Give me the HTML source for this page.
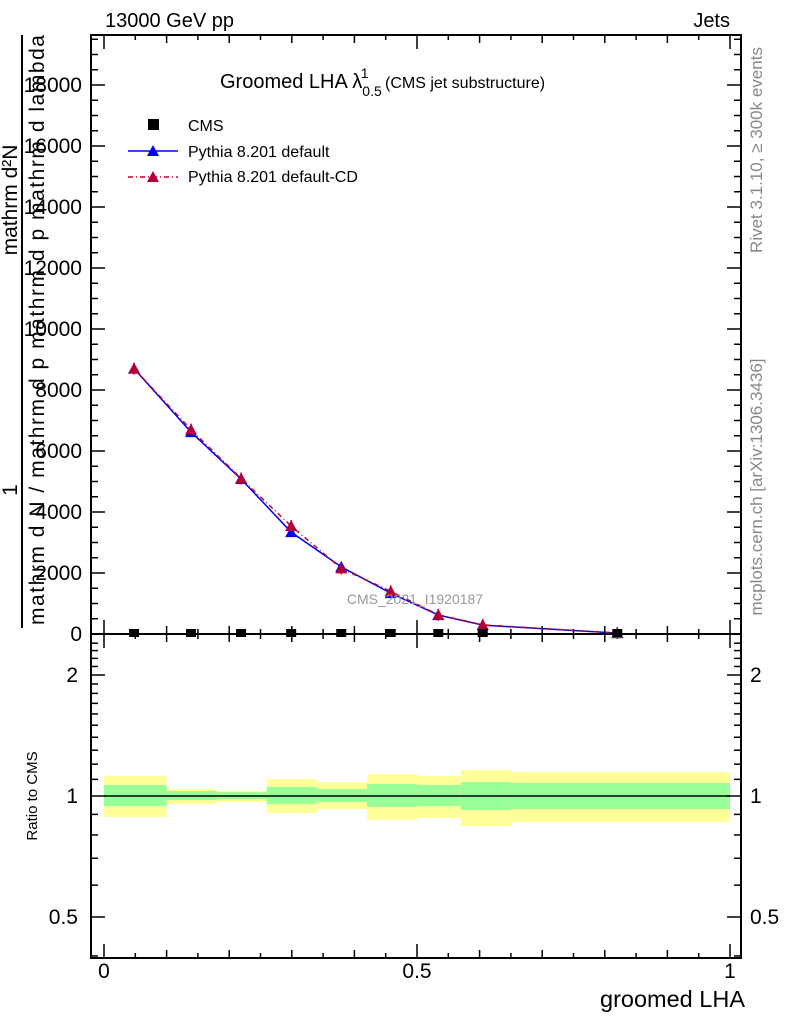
<!DOCTYPE html>
<html><head><meta charset="utf-8"><style>
body{margin:0;background:#fff;}
svg{display:block;font-family:"Liberation Sans",sans-serif;}
</style></head><body>
<svg id="c" width="786" height="1024"></svg>
<script>
const binEdges=[0,0.1,0.18,0.26,0.34,0.42,0.50,0.57,0.65,1.0];
const xCenters=[0.048,0.139,0.219,0.299,0.379,0.458,0.534,0.605,0.82];
const cmsVals=[0,0,0,0,0,0,0,0,0];
const pyDefault=[8700,6620,5080,3340,2200,1340,620,290,30];
const pyCD=[8700,6700,5100,3540,2150,1400,630,300,30];
const yelHi=[1.121,1.041,1.029,1.102,1.083,1.134,1.121,1.16,1.147];
const yelLo=[0.887,0.955,0.966,0.907,0.928,0.872,0.882,0.842,0.862];
const grnHi=[1.065,1.029,1.023,1.053,1.041,1.071,1.065,1.083,1.077];
const grnLo=[0.944,0.977,0.983,0.955,0.966,0.939,0.944,0.923,0.928];
const yTicks=[0,2000,4000,6000,8000,10000,12000,14000,16000,18000];
const rTicks=[0.5,1,2];
const xTicks=[0,0.5,1];

const S=document.getElementById('c');const NS='http://www.w3.org/2000/svg';
function el(t,a,txt){const e=document.createElementNS(NS,t);for(const k in a)e.setAttribute(k,a[k]);if(txt!==undefined)e.textContent=txt;S.appendChild(e);return e;}
const L=91,R=741,T=35,MB=634,RB=958;
const X=v=>104+v*626;
const Y=v=>634-v/2000*61;
const RY=v=>796-Math.log2(v)*121;

for(let i=0;i<9;i++){
 let b=el('rect',{x:X(binEdges[i]),y:RY(yelHi[i]),width:X(binEdges[i+1])-X(binEdges[i]),height:RY(yelLo[i])-RY(yelHi[i]),fill:'#ffff99'});
 
 
 let g=el('rect',{x:X(binEdges[i]),y:RY(grnHi[i]),width:X(binEdges[i+1])-X(binEdges[i]),height:RY(grnLo[i])-RY(grnHi[i]),fill:'#99ff99'});
 
 
}
let one=el('line',{x1:X(0),x2:X(1),y1:RY(1),y2:RY(1),stroke:'#000','stroke-width':1.5});



let f1=el('rect',{x:L,y:T,width:R-L,height:MB-T,fill:'none',stroke:'#000','stroke-width':2});


let f2=el('rect',{x:L,y:MB,width:R-L,height:RB-MB,fill:'none',stroke:'#000','stroke-width':2});



for(let v=0;v<=19500;v+=500){const y=Y(v);const maj=v%2000===0;
 el('line',{x1:L,x2:L+(maj?14:7),y1:y,y2:y,stroke:'#000','stroke-width':1.5});
 el('line',{x1:R,x2:R-(maj?14:7),y1:y,y2:y,stroke:'#000','stroke-width':1.5});}
yTicks.forEach(v=>{let t=el('text',{x:82,y:Y(v)+7,'text-anchor':'end','font-size':21},String(v));
 
 });
[0.4,0.5,0.6,0.7,0.8,0.9,1,1.1,1.2,1.3,1.4,1.5,1.6,1.7,1.8,1.9,2,2.1,2.2,2.3,2.4].forEach(v=>{const y=RY(v);const maj=rTicks.includes(v);
 el('line',{x1:L,x2:L+(maj?14:7),y1:y,y2:y,stroke:'#000','stroke-width':1.5});
 el('line',{x1:R,x2:R-(maj?14:7),y1:y,y2:y,stroke:'#000','stroke-width':1.5});});
rTicks.forEach(v=>{let a=el('text',{x:78,y:RY(v)+7,'text-anchor':'end','font-size':21},String(v));
 
 
 let b=el('text',{x:750,y:RY(v)+7,'font-size':21},String(v));
 
 });
for(let i=0;i<=20;i++){const v=i*0.05,x=X(v);const len=i%10===0?14:(i%2===0?8:5);
 [[MB,-1],[T,1],[RB,-1],[MB,1]].forEach(([y0,d])=>el('line',{x1:x,x2:x,y1:y0,y2:y0+d*len,stroke:'#000','stroke-width':1.5}));}
xTicks.forEach(v=>{let t=el('text',{x:X(v),y:978,'text-anchor':'middle','font-size':21},String(v));
 
 });

function pts(a){return xCenters.map((x,i)=>X(x)+','+Y(a[i])).join(' ');}
let l1=el('polyline',{points:pts(pyDefault),fill:'none',stroke:'#0000ee','stroke-width':1.5});


let l2=el('polyline',{points:pts(pyCD),fill:'none',stroke:'#c00030','stroke-width':1.5,'stroke-dasharray':'5,3,1,3'});


function tri(x,y,c,n){let p=el('polygon',{points:`${x-6},${y+5} ${x+6},${y+5} ${x},${y-6}`,fill:c});
 
 }
xCenters.forEach((x,i)=>{
 el('line',{x1:X(x),x2:X(x),y1:Y(pyCD[i])-6,y2:Y(pyCD[i])+6,stroke:'#c00030','stroke-width':1.5});
 tri(X(x),Y(pyDefault[i]),'#0000ee','pythia-default-point');
 tri(X(x),Y(pyCD[i]),'#b0003a','pythia-cd-point');
 let s=el('rect',{x:X(x)-5,y:Y(cmsVals[i])-5,width:10,height:8,fill:'#000'});
 
 
});

function txt(x,y,s,sz,extra,name){const a=Object.assign({x:x,y:y,'font-size':sz},extra||{});let t=el('text',a,s);
 
 return t;}
txt(105,27,'13000 GeV pp',20,{},'energy-label');
txt(730,27,'Jets',20,{'text-anchor':'end'},'process-label');
let ti=el('text',{x:220,y:88,'font-size':20});


ti.innerHTML='Groomed LHA λ<tspan font-size="14" dy="8">0.5</tspan><tspan font-size="14" dx="-21" dy="-18">1</tspan><tspan font-size="16" dx="12" dy="10"> (CMS jet substructure)</tspan>';
let lg=el('rect',{x:148,y:119,width:11,height:11,fill:'#000'});


txt(188,131,'CMS',16,{},'legend-cms-label');
el('line',{x1:128,x2:178,y1:151,y2:151,stroke:'#0000ee','stroke-width':1.5});
tri(153,151,'#0000ee','legend-default-marker');
txt(188,157,'Pythia 8.201 default',16,{},'legend-default-label');
el('line',{x1:128,x2:178,y1:177,y2:177,stroke:'#c00030','stroke-width':1.5,'stroke-dasharray':'5,3,1,3'});
tri(153,177,'#b0003a','legend-cd-marker');
txt(188,182,'Pythia 8.201 default-CD',16,{},'legend-cd-label');
txt(415,604,'CMS_2021_I1920187',14,{'text-anchor':'middle',fill:'#999'},'analysis-watermark');
txt(0,0,'Rivet 3.1.10, ≥ 300k events',17,{fill:'#888','text-anchor':'middle',transform:'translate(762,150) rotate(-90)'},'rivet-label');
txt(0,0,'mcplots.cern.ch [arXiv:1306.3436]',17,{fill:'#888','text-anchor':'middle',transform:'translate(762,487) rotate(-90)'},'mcplots-label');
txt(745,1007,'groomed LHA',23.5,{'text-anchor':'end'},'x-axis-title');
txt(0,0,'Ratio to CMS',15,{'text-anchor':'middle',transform:'translate(37,796) rotate(-90)'},'ratio-y-axis-title');
let yl=el('line',{x1:22,x2:22,y1:35,y2:628,stroke:'#000','stroke-width':2});


txt(0,0,'1',21,{'text-anchor':'middle',transform:'translate(17,490) rotate(-90)'},'y-axis-title-one');
txt(0,0,'mathrm d²N',21,{'text-anchor':'middle',transform:'translate(17,200) rotate(-90)'},'y-axis-title-numerator');
txt(0,0,'mathrm d N / mathrm d p  mathrm d p  mathrm d lambda',21,{'text-anchor':'middle',textLength:590,transform:'translate(44,330) rotate(-90)'},'y-axis-title-denominator');
</script>
</body></html>
